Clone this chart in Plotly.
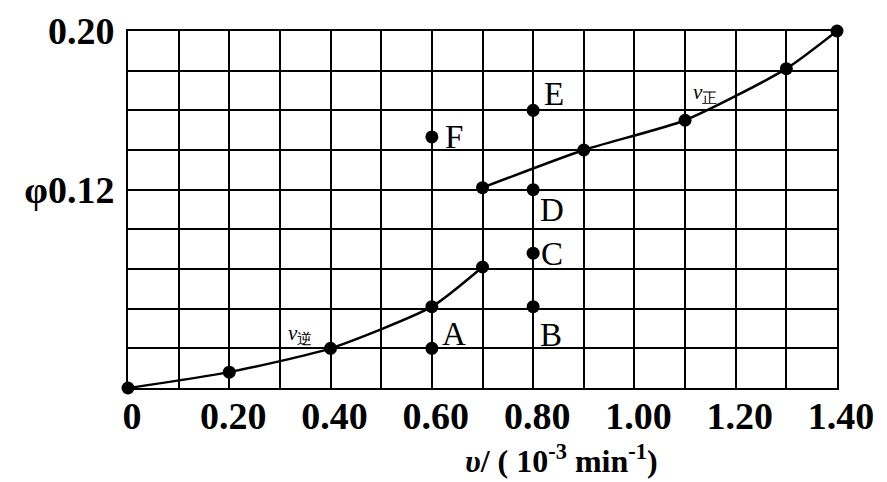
import plotly.graph_objects as go

# ---- data ----
x_ticks = [0.0, 0.1, 0.2, 0.3, 0.4, 0.5, 0.6, 0.7, 0.8, 0.9, 1.0, 1.1, 1.2, 1.3, 1.4]
x_ticktext = ["0", "", "0.20", "", "0.40", "", "0.60", "", "0.80", "", "1.00", "", "1.20", "", "1.40"]
y_ticks = [0.02, 0.04, 0.06, 0.08, 0.10, 0.12, 0.14, 0.16, 0.18, 0.20]
y_ticktext = ["", "", "", "", "", "φ0.12", "", "", "", "0.20"]

# lower branch of curve (v逆 side)
low_x = [0.0, 0.2, 0.4, 0.6, 0.7]
low_y = [0.020, 0.028, 0.040, 0.061, 0.081]
# upper branch of curve (v正 side)
up_x = [0.7, 0.9, 1.1, 1.3, 1.4]
up_y = [0.121, 0.140, 0.155, 0.181, 0.200]

# labelled points
pt_names = ["A", "B", "C", "D", "E", "F"]
pt_x = [0.6, 0.8, 0.8, 0.8, 0.8, 0.6]
pt_y = [0.040, 0.061, 0.088, 0.120, 0.160, 0.1466]

curve_labels = ["<i>v</i><sub>逆</sub>", "<i>v</i><sub>正</sub>"]
curve_label_x = [0.34, 1.14]
curve_label_y = [0.0470, 0.1685]

x_title = "<i>υ</i>/ ( 10<sup>-3</sup> min<sup>-1</sup>)"

# ---- styling ----
label_offsets = {"A": (22, 14), "B": (18, -28), "C": (19, -1), "D": (19, -20), "E": (21, 16), "F": (22, 0)}
serif = "Liberation Serif"

fig = go.Figure()
for xs, ys in [(low_x, low_y), (up_x, up_y)]:
    fig.add_trace(go.Scatter(
        x=xs, y=ys, mode="lines+markers",
        line=dict(color="black", width=2.5, shape="spline", smoothing=0.6),
        marker=dict(color="black", size=13),
        cliponaxis=False, showlegend=False, hoverinfo="skip"))

fig.add_trace(go.Scatter(
    x=pt_x, y=pt_y, mode="markers",
    marker=dict(color="black", size=13),
    cliponaxis=False, showlegend=False, hoverinfo="skip"))

annotations = []
for n, xv, yv in zip(pt_names, pt_x, pt_y):
    dx, dy = label_offsets[n]
    annotations.append(dict(x=xv, y=yv, xref="x", yref="y", text=n, showarrow=False,
                            xshift=dx, yshift=dy,
                            font=dict(family=serif, size=33, color="black")))
for t, xv, yv in zip(curve_labels, curve_label_x, curve_label_y):
    annotations.append(dict(x=xv, y=yv, xref="x", yref="y", text=t, showarrow=False,
                            font=dict(family=serif, size=21, color="black")))
annotations.append(dict(x=0.855, y=-0.20, xref="x", yref="paper", text=x_title, showarrow=False,
                        yanchor="middle",
                        font=dict(family=serif, size=32, color="black", weight="bold")))

fig.update_layout(
    width=879, height=474,
    margin=dict(l=120, r=50, t=23, b=94),
    paper_bgcolor="white", plot_bgcolor="white",
    annotations=annotations,
    xaxis=dict(range=[0, 1.4], tickvals=x_ticks, ticktext=x_ticktext, automargin=False,
               showgrid=True, gridcolor="black", gridwidth=2, zeroline=False,
               showline=True, linecolor="black", linewidth=2, mirror=True,
               ticks="", ticklabelstandoff=-7, ticklabelshift=4,
               tickfont=dict(family=serif, size=38, color="black", weight="bold")),
    yaxis=dict(range=[0.02, 0.20], tickvals=y_ticks, ticktext=y_ticktext, automargin=False,
               showgrid=True, gridcolor="black", gridwidth=2, zeroline=False,
               showline=True, linecolor="black", linewidth=2, mirror=True,
               ticks="", ticklabelstandoff=4,
               tickfont=dict(family=serif, size=38, color="black", weight="bold")),
)

fig.write_html("out.html")
